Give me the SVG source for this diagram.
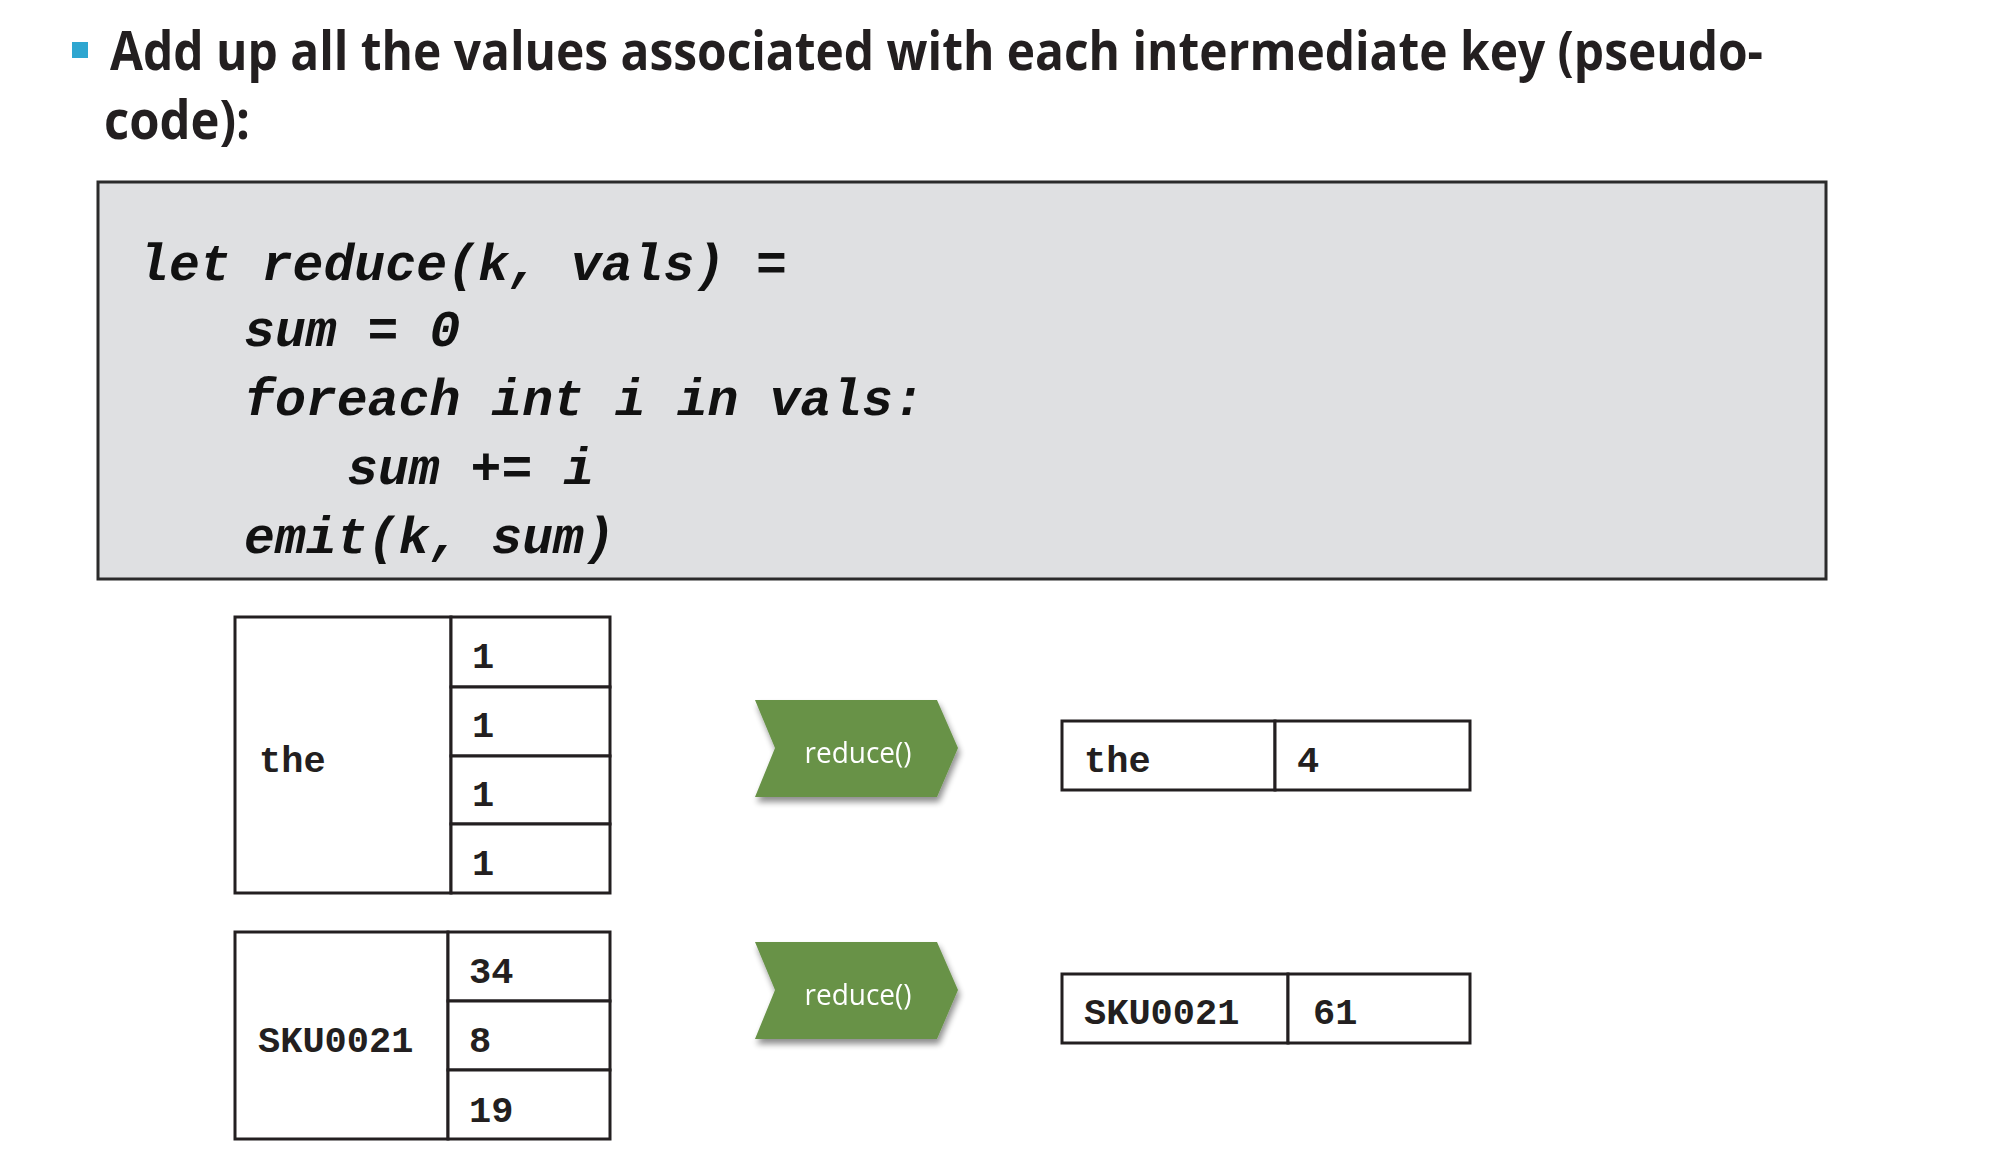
<svg xmlns="http://www.w3.org/2000/svg" width="1990" height="1158" viewBox="0 0 1990 1158">
<style>
.title{font-family:"Open Sans","Lato","Liberation Sans",sans-serif;font-weight:bold;font-size:54px;fill:#231f20}
.code{font-family:"Liberation Mono","Courier New",monospace;font-weight:bold;font-style:italic;font-size:51.5px;fill:#111}
.cell{fill:#fff;stroke:#231f20;stroke-width:3}
.mono{font-family:"Liberation Mono","Courier New",monospace;font-weight:bold;font-size:37px;fill:#231f20}
.chev{fill:#679247}
.lbl{font-family:"Open Sans","Liberation Sans",sans-serif;font-size:30px;fill:#fff;text-anchor:middle}
</style>
<defs>
<filter id="sh" x="-10%" y="-10%" width="130%" height="140%">
<feGaussianBlur in="SourceAlpha" stdDeviation="3"/>
<feOffset dx="2" dy="5" result="b"/>
<feComponentTransfer><feFuncA type="linear" slope="0.45"/></feComponentTransfer>
<feMerge><feMergeNode/><feMergeNode in="SourceGraphic"/></feMerge>
</filter>
</defs>
<rect width="1990" height="1158" fill="#fff"/>
<g id="title">
<rect x="72" y="42" width="16" height="16" fill="#2ea6d0"/>
<text class="title" x="110" y="70" textLength="1653" lengthAdjust="spacingAndGlyphs">Add up all the values associated with each intermediate key (pseudo-</text>
<text class="title" x="104" y="139" textLength="146" lengthAdjust="spacingAndGlyphs">code):</text>
</g>
<g id="code">
<rect x="98" y="182" width="1728" height="397" fill="#dfe0e2" stroke="#2b2b2b" stroke-width="3"/>
<text class="code" x="138" y="280">let reduce(k, vals) =</text>
<text class="code" x="244" y="346">sum = 0</text>
<text class="code" x="244" y="415">foreach int i in vals:</text>
<text class="code" x="347" y="484">sum += i</text>
<text class="code" x="244" y="553">emit(k, sum)</text>
</g>
<g id="input-the">
<rect class="cell" x="235" y="617" width="216" height="276"/>
<rect class="cell" x="451" y="617" width="159" height="70"/>
<rect class="cell" x="451" y="687" width="159" height="69"/>
<rect class="cell" x="451" y="756" width="159" height="68"/>
<rect class="cell" x="451" y="824" width="159" height="69"/>
<text class="mono" x="259" y="772">the</text>
<text class="mono" x="472" y="668">1</text>
<text class="mono" x="472" y="737">1</text>
<text class="mono" x="472" y="806">1</text>
<text class="mono" x="472" y="875">1</text>
</g>
<g id="input-sku">
<rect class="cell" x="235" y="932" width="213" height="207"/>
<rect class="cell" x="448" y="932" width="162" height="69"/>
<rect class="cell" x="448" y="1001" width="162" height="69"/>
<rect class="cell" x="448" y="1070" width="162" height="69"/>
<text class="mono" x="258" y="1052">SKU0021</text>
<text class="mono" x="469" y="983">34</text>
<text class="mono" x="469" y="1052">8</text>
<text class="mono" x="469" y="1122">19</text>
</g>
<g id="reduce1" filter="url(#sh)">
<polygon class="chev" points="755,700 937,700 958,748 937,797 755,797 775,748"/>
<text class="lbl" x="858" y="763" textLength="107" lengthAdjust="spacingAndGlyphs">reduce()</text>
</g>
<g id="reduce2" filter="url(#sh)">
<polygon class="chev" points="755,942 937,942 958,990 937,1039 755,1039 775,990"/>
<text class="lbl" x="858" y="1005" textLength="107" lengthAdjust="spacingAndGlyphs">reduce()</text>
</g>
<g id="output-the">
<rect class="cell" x="1062" y="721" width="213" height="69"/>
<rect class="cell" x="1275" y="721" width="195" height="69"/>
<text class="mono" x="1084" y="772">the</text>
<text class="mono" x="1297" y="772">4</text>
</g>
<g id="output-sku">
<rect class="cell" x="1062" y="974" width="226" height="69"/>
<rect class="cell" x="1288" y="974" width="182" height="69"/>
<text class="mono" x="1084" y="1024">SKU0021</text>
<text class="mono" x="1313" y="1024">61</text>
</g>
<g id="connectors"></g>
</svg>
